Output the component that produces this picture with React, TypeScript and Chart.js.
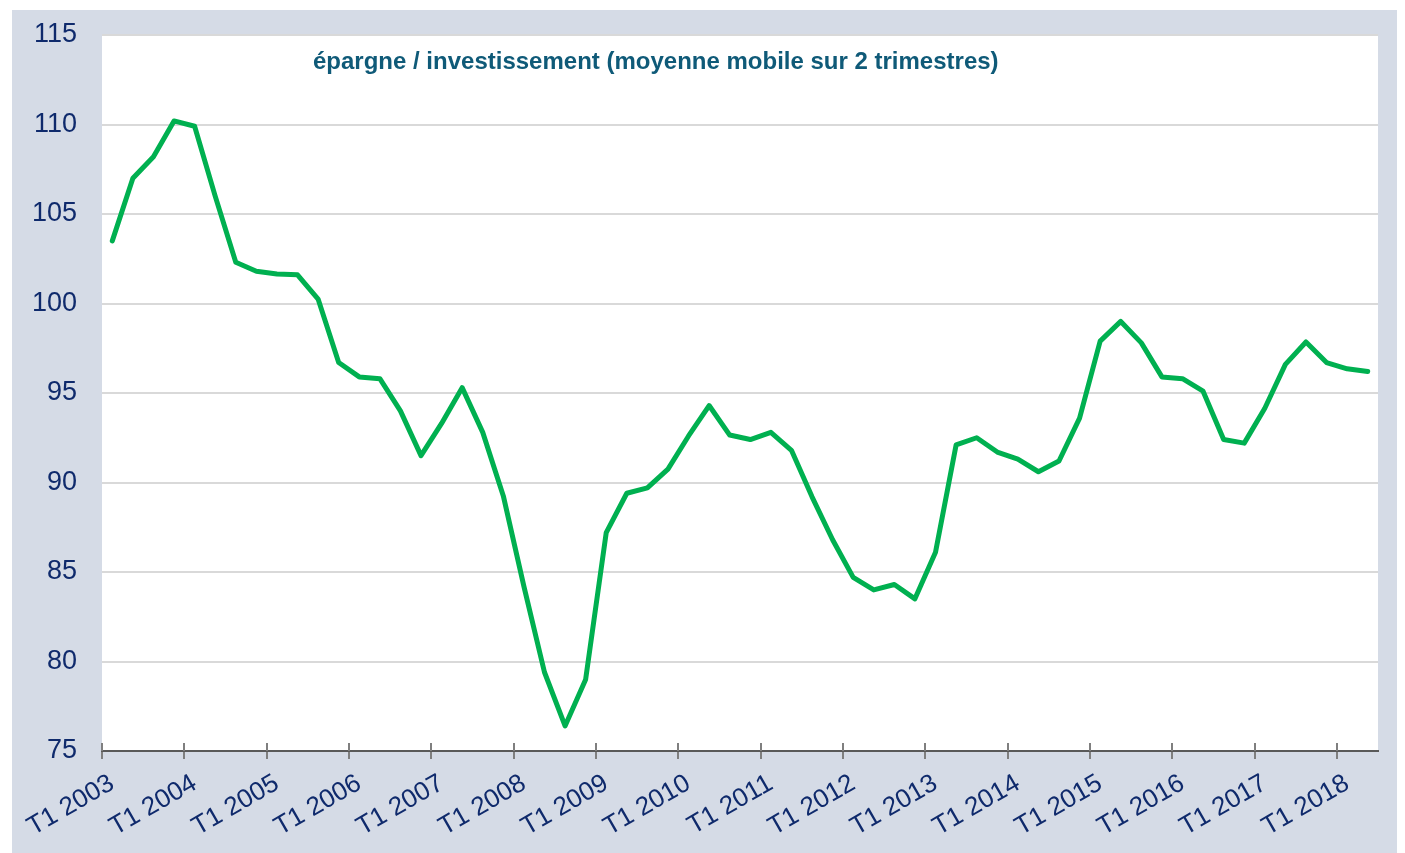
import React, { useEffect, useRef } from "react";
import { Chart, registerables } from "chart.js";

Chart.register(...registerables);

const years = [2003, 2004, 2005, 2006, 2007, 2008, 2009, 2010, 2011, 2012, 2013, 2014, 2015, 2016, 2017, 2018];
const quarters = ["T1", "T2", "T3", "T4"];
const pointCount = 62;

const ratioValues = [
  103.5, 107.0, 108.2, 110.2, 109.9, 106.0, 102.3, 101.8, 101.65, 101.6,
  100.25, 96.7, 95.9, 95.8, 94.0, 91.5, 93.3, 95.3, 92.8, 89.25,
  84.2, 79.4, 76.4, 79.0, 87.2, 89.4, 89.7, 90.75, 92.6, 94.3,
  92.65, 92.4, 92.8, 91.8, 89.2, 86.8, 84.7, 84.0, 84.3, 83.5,
  86.1, 92.1, 92.5, 91.7, 91.3, 90.6, 91.2, 93.6, 97.9, 99.0,
  97.8, 95.9, 95.8, 95.1, 92.4, 92.2, 94.15, 96.6, 97.85, 96.7,
  96.35, 96.2,
];

const titleText = "épargne / investissement (moyenne mobile sur 2 trimestres)";
const yMin = 75;
const yMax = 115;
const yStep = 5;

const labels: string[] = [];
for (const y of years) {
  for (const q of quarters) {
    if (labels.length < pointCount) labels.push(`${q} ${y}`);
  }
}

const FONT = "'Liberation Sans', Arial, sans-serif";
const LABEL_COLOR = "#0f2a6c";

const plotBgAndTitle = {
  id: "plotBgAndTitle",
  beforeDraw(chart: any) {
    const { ctx, chartArea } = chart;
    ctx.save();
    ctx.fillStyle = "#ffffff";
    ctx.fillRect(chartArea.left, chartArea.top, chartArea.right - chartArea.left, chartArea.bottom - chartArea.top);
    ctx.restore();
  },
  afterDraw(chart: any) {
    const { ctx, chartArea } = chart;
    const xs = chart.scales.x;
    ctx.save();
    // upper half of the yearly tick marks (crossing the axis line)
    ctx.strokeStyle = "#7f7f7f";
    ctx.lineWidth = 2;
    const n = xs.ticks.length;
    const half = (xs.getPixelForTick(1) - xs.getPixelForTick(0)) / 2;
    for (let i = 0; i < n; i += 4) {
      const px = Math.round(xs.getPixelForTick(i) - half);
      ctx.beginPath();
      ctx.moveTo(px, chartArea.bottom - 8);
      ctx.lineTo(px, chartArea.bottom);
      ctx.stroke();
    }
    ctx.font = `bold 24px ${FONT}`;
    ctx.fillStyle = "#0f5a78";
    ctx.textAlign = "left";
    ctx.textBaseline = "middle";
    ctx.fillText(titleText, chartArea.left + 211, chartArea.top + 27);
    ctx.restore();
  },
};

export default function App() {
  const canvasRef = useRef<HTMLCanvasElement | null>(null);

  useEffect(() => {
    document.body.style.overflow = "hidden";
    const canvas = canvasRef.current;
    if (!canvas) return;
    const chart = new Chart(canvas, {
      type: "line",
      data: {
        labels,
        datasets: [
          {
            data: ratioValues,
            borderColor: "#00b050",
            borderWidth: 5,
            pointRadius: 0,
            tension: 0,
            borderJoinStyle: "round",
            borderCapStyle: "round",
            fill: false,
          },
        ],
      },
      options: {
        animation: false,
        responsive: false,
        maintainAspectRatio: false,
        layout: { padding: { top: 25, right: 19, left: 0, bottom: 0 } },
        plugins: {
          legend: { display: false },
          tooltip: { enabled: false },
          title: { display: false },
        },
        scales: {
          x: {
            type: "category",
            offset: true,
            afterFit(scale: any) {
              scale.height = 102;
            },
            grid: {
              offset: true,
              drawOnChartArea: false,
              drawTicks: true,
              tickLength: 8,
              lineWidth: 2,
              color: (ctx: any) => (ctx.index % 4 === 0 ? "#7f7f7f" : "rgba(0,0,0,0)"),
            },
            border: { display: true, color: "#595959", width: 2 },
            ticks: {
              autoSkip: false,
              maxRotation: 30,
              minRotation: 30,
              padding: 9,
              color: LABEL_COLOR,
              font: { family: FONT, size: 26 },
              callback: (_v: any, i: number) => (i % 4 === 0 ? labels[i] : ""),
            },
          },
          y: {
            min: yMin,
            max: yMax,
            afterFit(scale: any) {
              scale.width = 90;
              scale.paddingTop = 0;
              scale.paddingBottom = 0;
            },
            grid: {
              color: "#d9d9d9",
              lineWidth: 2,
              drawTicks: false,
            },
            border: { display: false },
            ticks: {
              stepSize: yStep,
              padding: 25,
              color: LABEL_COLOR,
              font: { family: FONT, size: 27 },
            },
          },
        },
      },
      plugins: [plotBgAndTitle],
    });
    return () => chart.destroy();
  }, []);

  return (
    <div
      style={{
        position: "absolute",
        left: 12,
        top: 10,
        width: 1385,
        height: 843,
        background: "#d5dbe6",
      }}
    >
      <canvas ref={canvasRef} width={1385} height={843} style={{ display: "block" }} />
    </div>
  );
}
